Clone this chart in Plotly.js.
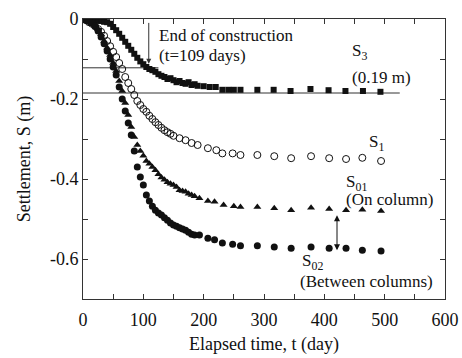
<!DOCTYPE html>
<html>
<head>
<meta charset="utf-8">
<script src="https://cdn.plot.ly/plotly-3.0.1.min.js"></script>
<style>
html,body{margin:0;padding:0;background:#fff;}
#chart{width:462px;height:358px;}
</style>
</head>
<body>
<div id="chart"></div>
<script>
// S3 (squares)
var s3T = [0,5,10,15,20,25,30,35,40,45,50,55,60,65,70,75,80,85,90,95,100,105,110,115,120,125,130,135,140,145,150,155,160,165,170,175,180,185,190,200,210,220,231,241,250,261,289,316,344,377,407,435,464,493];
var s3S = [0,0,-0.001,-0.002,-0.003,-0.004,-0.005,-0.007,-0.008,-0.012,-0.02,-0.028,-0.037,-0.047,-0.057,-0.067,-0.077,-0.087,-0.097,-0.106,-0.113,-0.12,-0.125,-0.128,-0.132,-0.138,-0.142,-0.145,-0.15,-0.148,-0.153,-0.158,-0.155,-0.16,-0.162,-0.158,-0.165,-0.163,-0.167,-0.168,-0.17,-0.17,-0.177,-0.177,-0.177,-0.177,-0.177,-0.177,-0.18,-0.175,-0.178,-0.18,-0.18,-0.182];
// S1 (open circles)
var s1T = [0,5,10,15,20,25,30,35,40,45,50,55,60,65,70,75,80,85,90,95,100,105,110,115,120,125,130,135,140,145,150,160,170,180,190,207,221,231,248,261,289,317,345,378,408,436,463,494];
var s1S = [0,-0.003,-0.008,-0.012,-0.018,-0.025,-0.032,-0.042,-0.055,-0.068,-0.082,-0.095,-0.11,-0.125,-0.145,-0.16,-0.175,-0.19,-0.205,-0.215,-0.225,-0.232,-0.242,-0.25,-0.258,-0.265,-0.272,-0.278,-0.283,-0.287,-0.292,-0.298,-0.303,-0.31,-0.315,-0.323,-0.328,-0.336,-0.336,-0.34,-0.34,-0.343,-0.348,-0.343,-0.348,-0.35,-0.347,-0.355];
// S01 (triangles, on column)
var s01T = [0,5,10,15,20,25,30,35,40,45,50,55,60,65,70,75,80,85,90,95,100,105,110,115,120,125,130,135,140,145,150,155,160,165,170,175,180,185,193,207,218,233,250,261,289,317,345,378,408,436,463,494];
var s01S = [0,-0.002,-0.005,-0.009,-0.015,-0.025,-0.038,-0.055,-0.072,-0.09,-0.11,-0.13,-0.155,-0.18,-0.21,-0.24,-0.27,-0.295,-0.315,-0.33,-0.342,-0.355,-0.362,-0.37,-0.378,-0.388,-0.396,-0.402,-0.408,-0.412,-0.415,-0.42,-0.428,-0.43,-0.432,-0.437,-0.44,-0.443,-0.448,-0.455,-0.457,-0.465,-0.468,-0.47,-0.47,-0.473,-0.478,-0.472,-0.475,-0.478,-0.477,-0.48];
// S02 (filled circles, between columns)
var s02T = [0,5,10,15,20,25,30,35,40,45,50,55,60,65,70,75,80,85,90,95,100,105,110,115,120,125,130,135,140,145,150,155,160,165,170,175,180,185,193,207,218,231,248,261,289,317,345,378,408,436,463,494];
var s02S = [0,-0.003,-0.006,-0.01,-0.018,-0.03,-0.045,-0.062,-0.08,-0.1,-0.12,-0.14,-0.17,-0.2,-0.23,-0.26,-0.29,-0.33,-0.37,-0.395,-0.415,-0.44,-0.455,-0.468,-0.478,-0.485,-0.49,-0.497,-0.503,-0.51,-0.515,-0.518,-0.522,-0.525,-0.528,-0.533,-0.538,-0.54,-0.54,-0.548,-0.552,-0.56,-0.563,-0.567,-0.567,-0.57,-0.573,-0.57,-0.573,-0.573,-0.578,-0.58];
// reference lines
var upperLineT = [0,125];
var upperLineS = [-0.122,-0.122];
var finalLineT = [0,525];
var finalLineS = [-0.185,-0.185];
// ticks
var xTickVals = [0,50,100,150,200,250,300,350,400,450,500,550,600];
var xTickText = ["0","","100","","200","","300","","400","","500","","600"];
var yTickVals = [0,-0.1,-0.2,-0.3,-0.4,-0.5,-0.6,-0.7];
var yTickText = ["0","","-0.2","","-0.4","","-0.6",""];

var FONT = "Liberation Serif";
var INK = "#111";

var traces = [
  {x: upperLineT, y: upperLineS, mode: "lines", line: {color: "#333", width: 1}, hoverinfo: "skip"},
  {x: finalLineT, y: finalLineS, mode: "lines", line: {color: "#333", width: 1}, hoverinfo: "skip"},
  {x: s3T, y: s3S, mode: "markers", marker: {symbol: "square", size: 6, color: INK}},
  {x: s1T, y: s1S, mode: "markers", marker: {symbol: "circle-open", size: 7, color: INK, line: {width: 1}}},
  {x: s01T, y: s01S, mode: "markers", marker: {symbol: "triangle-up", size: 7, color: INK}},
  {x: s02T, y: s02S, mode: "markers", marker: {symbol: "circle", size: 7, color: INK}}
];

function ann(x, y, text, anchor) {
  return {x: x, y: y, xref: "x", yref: "y", text: text, showarrow: false, xanchor: anchor || "left", yanchor: "middle", font: {family: FONT, size: 17, color: INK}};
}

var layout = {
  width: 462, height: 358,
  margin: {l: 83, r: 17, t: 19, b: 59},
  paper_bgcolor: "#fff", plot_bgcolor: "#fff",
  showlegend: false,
  font: {family: FONT, size: 17, color: INK},
  xaxis: {
    range: [0, 600], tickvals: xTickVals, ticktext: xTickText,
    ticks: "inside", ticklen: 5, tickcolor: "#333", tickwidth: 1,
    showline: true, linecolor: "#333", linewidth: 1, mirror: "ticks",
    showgrid: false, zeroline: false, ticklabelstandoff: 4,
    tickfont: {family: FONT, size: 18, color: INK},
    title: {text: "Elapsed time, t (day)", font: {family: FONT, size: 18, color: INK}, standoff: 8}
  },
  yaxis: {
    range: [-0.7, 0], tickvals: yTickVals, ticktext: yTickText,
    ticks: "inside", ticklen: 5, tickcolor: "#333", tickwidth: 1,
    showline: true, linecolor: "#333", linewidth: 1, mirror: "ticks",
    showgrid: false, zeroline: false,
    tickfont: {family: FONT, size: 18, color: INK},
    title: {text: "Settlement, S (m)", font: {family: FONT, size: 18, color: INK}, standoff: 14}
  },
  annotations: [
    ann(122, -0.042, "End of construction"),
    ann(122, -0.09, "(t=109 days)"),
    ann(443, -0.083, "S<sub>3</sub>"),
    ann(443, -0.145, "(0.19 m)"),
    ann(471, -0.31, "S<sub>1</sub>"),
    ann(433, -0.41, "S<sub>01</sub>"),
    ann(432, -0.45, "(On column)"),
    ann(360, -0.607, "S<sub>02</sub>"),
    ann(357, -0.655, "(Between columns)"),
    {x: 109, y: -0.112, ax: 109, ay: -0.006, xref: "x", yref: "y", axref: "x", ayref: "y", text: "", showarrow: true, arrowhead: 2, arrowsize: 1, arrowwidth: 1, arrowcolor: "#333"},
    {x: 421, y: -0.578, ax: 421, ay: -0.487, xref: "x", yref: "y", axref: "x", ayref: "y", text: "", showarrow: true, arrowhead: 2, startarrowhead: 2, arrowside: "end+start", arrowsize: 1.2, startarrowsize: 1.2, arrowwidth: 1, arrowcolor: "#111"}
  ]
};

Plotly.newPlot("chart", traces, layout, {staticPlot: true, displayModeBar: false});
</script>
</body>
</html>
